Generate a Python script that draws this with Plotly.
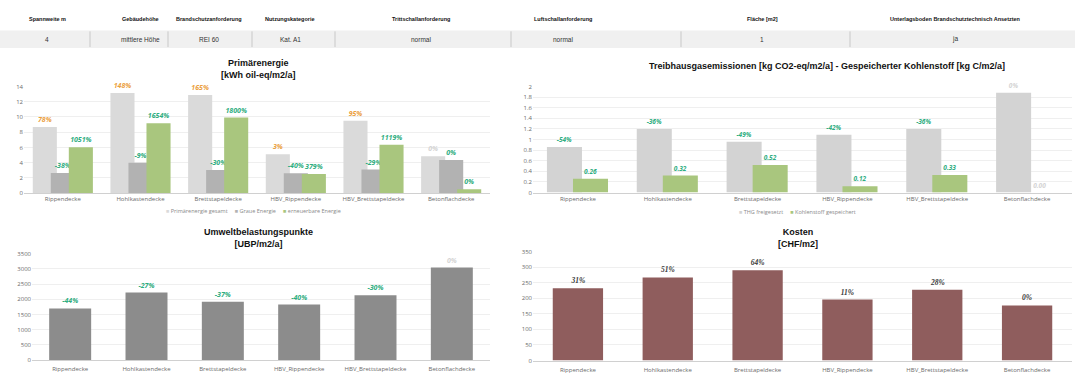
import plotly.graph_objects as go

W, H = 1088, 374

categories = ["Rippendecke", "Hohlkastendecke", "Brettstapeldecke",
              "HBV_Rippendecke", "HBV_Brettstapeldecke", "Betonflachdecke"]

header_labels = ["Spannweite m", "Gebäudehöhe", "Brandschutzanforderung", "Nutzungskategorie",
                 "Trittschallanforderung", "Luftschallanforderung", "Fläche [m2]",
                 "Unterlagsboden Brandschutztechnisch Ansetzten"]
header_values = ["4", "mittlere Höhe", "REI 60", "Kat. A1", "normal", "normal", "1", "ja"]

# Primärenergie [kWh oil-eq/m2/a]
pe_names = ["Primärenergie gesamt", "Graue Energie", "erneuerbare Energie"]
pe_total = [8.7, 13.15, 12.9, 5.1, 9.5, 4.85]
pe_grey = [2.65, 3.98, 3.05, 2.6, 3.1, 4.35]
pe_renew = [6.02, 9.17, 9.93, 2.5, 6.37, 0.52]
pe_total_lbl = ["78%", "148%", "165%", "3%", "95%", "0%"]
pe_grey_lbl = ["-38%", "-9%", "-30%", "-40%", "-29%", "0%"]
pe_renew_lbl = ["1051%", "1654%", "1800%", "379%", "1119%", "0%"]

# Treibhausgasemissionen / gespeicherter Kohlenstoff
ghg_names = ["THG freigesetzt", "Kohlenstoff gespeichert"]
ghg = [0.86, 1.2, 0.96, 1.09, 1.2, 1.88]
carbon = [0.26, 0.32, 0.52, 0.12, 0.33, 0.0]
ghg_lbl = ["-54%", "-36%", "-49%", "-42%", "-36%", "0%"]
carbon_lbl = ["0.26", "0.32", "0.52", "0.12", "0.33", "0.00"]

# Umweltbelastungspunkte [UBP/m2/a]
ubp = [1700, 2220, 1915, 1825, 2130, 3040]
ubp_lbl = ["-44%", "-27%", "-37%", "-40%", "-30%", "0%"]

# Kosten [CHF/m2]
cost = [232, 267, 290, 196, 227, 177]
cost_lbl = ["31%", "51%", "64%", "11%", "28%", "0%"]

# colours
C_LIGHT = "#DADADA"
C_GREY = "#B2B2B2"
C_GREEN = "#A9C67E"
C_GHG = "#D3D3D3"
C_UBP = "#8C8C8C"
C_COST = "#8F5D5D"
C_TEAL = "#2EAD80"
C_ORANGE = "#EBA040"
C_FAINT = "#D4D4D4"
LABEL_FONT = "Open Sans"
TITLE_FONT = "Liberation Sans"
NBSP = "\u00a0"


def px_x(v):
    return v / W


def px_y(v):
    return 1 - v / H


def label_font(colors, size=7, bold=True, family=LABEL_FONT):
    return dict(size=size, color=colors, family=family,
                weight="bold" if bold else "normal", style="italic")


def teal_then_faint(n):
    return [C_TEAL] * (n - 1) + [C_FAINT]


fig = go.Figure()

# ---- Primärenergie (x / y) ----
pe_colors = [C_LIGHT, C_GREY, C_GREEN]
for vals, lbls, col, off, tcol, name in [
    (pe_total, pe_total_lbl, pe_colors[0], -0.387, [C_ORANGE] * 5 + [C_FAINT], pe_names[0]),
    (pe_grey, pe_grey_lbl, pe_colors[1], -0.155, [C_TEAL] * 6, pe_names[1]),
    (pe_renew, pe_renew_lbl, pe_colors[2], 0.077, [C_TEAL] * 6, pe_names[2]),
]:
    fig.add_trace(go.Bar(
        x=categories, y=vals, name=name, marker=dict(color=col, line=dict(width=0)),
        width=0.31, offset=off, text=lbls, textposition="outside", cliponaxis=False,
        constraintext="none", textfont=label_font(tcol), xaxis="x", yaxis="y",
        showlegend=False, hoverinfo="x+y"))

# ---- Treibhausgas (x2 / y2) ----
ghg_colors = [C_GHG, C_GREEN]
for vals, lbls, col, off, tcol, name in [
    (ghg, ghg_lbl, ghg_colors[0], -0.345, teal_then_faint(6), ghg_names[0]),
    (carbon, carbon_lbl, ghg_colors[1], -0.055, teal_then_faint(6), ghg_names[1]),
]:
    fig.add_trace(go.Bar(
        x=categories, y=vals, name=name, marker=dict(color=col, line=dict(width=0)),
        width=0.39, offset=off, text=lbls, textposition="outside", cliponaxis=False,
        constraintext="none", textfont=label_font(tcol, size=6.5), xaxis="x2", yaxis="y2",
        showlegend=False, hoverinfo="x+y"))

# ---- Umweltbelastungspunkte (x3 / y3) ----
fig.add_trace(go.Bar(
    x=categories, y=ubp, name="UBP", marker=dict(color=C_UBP, line=dict(width=0)),
    width=0.55, text=ubp_lbl, textposition="outside", cliponaxis=False,
    constraintext="none", textfont=label_font(teal_then_faint(6)),
    xaxis="x3", yaxis="y3", showlegend=False))

# ---- Kosten (x4 / y4) ----
fig.add_trace(go.Bar(
    x=categories, y=cost, name="Kosten", marker=dict(color=C_COST, line=dict(width=0)),
    width=0.56, text=cost_lbl, textposition="outside", cliponaxis=False,
    constraintext="none",
    textfont=label_font(["#3A3A3A"] * 6, size=7.5, bold=True, family="Liberation Serif"),
    xaxis="x4", yaxis="y4", showlegend=False))

tick_font = dict(size=6, color="#6B6B6B", family=LABEL_FONT)


def xaxis(x0, x1, anchor, standoff=0):
    ax = dict(domain=[px_x(x0), px_x(x1)], anchor=anchor, type="category",
              showline=True, linecolor="#D0D0D0", linewidth=1, ticks="",
              showgrid=False, tickangle=0, tickfont=tick_font, fixedrange=True)
    if standoff:
        ax["ticklabelstandoff"] = standoff
    return ax


def yaxis(y_bottom, y_top, rng, dtick, anchor):
    return dict(domain=[px_y(y_bottom), px_y(y_top)], anchor=anchor, range=rng,
                dtick=dtick, showline=False, zeroline=False, showgrid=True,
                gridcolor="#EFEFEF", gridwidth=1, ticks="", tickfont=tick_font,
                fixedrange=True)


fig.update_layout(
    width=W, height=H, margin=dict(l=0, r=0, t=0, b=0),
    paper_bgcolor="white", plot_bgcolor="white", barmode="overlay", showlegend=False,
    xaxis=xaxis(24, 490, "y"), yaxis=yaxis(193.3, 84.3, [0, 14], 2, "x"),
    xaxis2=xaxis(533, 1072, "y2"), yaxis2=yaxis(192.7, 84.3, [0, 2], 0.2, "x2"),
    xaxis3=xaxis(32, 490, "y3", 3), yaxis3=yaxis(364, 255, [0, 3500], 500, "x3"),
    xaxis4=xaxis(533, 1072, "y4", 3), yaxis4=yaxis(364.3, 253, [0, 350], 50, "x4"),
    font=dict(family=LABEL_FONT),
)

# ---- header table ----
header_x = [47, 140, 209, 290, 421, 563, 762, 955]
separators = [90, 168, 252, 335, 511, 681, 850]
shapes = [dict(type="rect", xref="paper", yref="paper", x0=0, x1=px_x(1075),
               y0=px_y(45), y1=px_y(27), fillcolor="#F0F0F0", line=dict(width=0), layer="below")]
for e in separators:
    shapes.append(dict(type="line", xref="paper", yref="paper", x0=px_x(e), x1=px_x(e),
                       y0=px_y(44), y1=px_y(28), line=dict(color="#C8C8C8", width=1)))
annotations = []
for cx, lab, val in zip(header_x, header_labels, header_values):
    annotations.append(dict(x=px_x(cx), y=px_y(15), xref="paper", yref="paper",
                            text=f"<b>{lab}</b>", showarrow=False, xanchor="center",
                            yanchor="middle", font=dict(size=5.5, color="#111111",
                                                        family=TITLE_FONT)))
    annotations.append(dict(x=px_x(cx), y=px_y(36), xref="paper", yref="paper",
                            text=val, showarrow=False, xanchor="center", yanchor="middle",
                            font=dict(size=6.5, color="#333333", family=TITLE_FONT)))

# ---- chart titles ----
titles = [
    ("Primärenergie<br>[kWh oil-eq/m2/a]", 258, 66.5),
    ("Treibhausgasemissionen [kg CO2-eq/m2/a] - Gespeicherter Kohlenstoff [kg C/m2/a]", 827, 63),
    ("Umweltbelastungspunkte<br>[UBP/m2/a]", 258, 239),
    ("Kosten<br>[CHF/m2]", 798, 239),
]
for txt, cx, cy in titles:
    annotations.append(dict(x=px_x(cx), y=px_y(cy), xref="paper", yref="paper",
                            text=f"<b>{txt}</b>", showarrow=False, xanchor="center",
                            yanchor="middle", align="center",
                            font=dict(size=9, color="#111111", family=TITLE_FONT)))


# ---- compact legends (small square key + series name) ----
def legend_text(names, colors):
    items = [f"<span style='color:{c}'>■</span>{NBSP}{n}" for n, c in zip(names, colors)]
    return (NBSP * 5).join(items)


for names, colors, cx, cy in [(pe_names, pe_colors, 253, 212),
                              (ghg_names, ghg_colors, 797, 213)]:
    annotations.append(dict(x=px_x(cx), y=px_y(cy), xref="paper", yref="paper",
                            text=legend_text(names, colors), showarrow=False,
                            xanchor="center", yanchor="middle",
                            font=dict(size=5.5, color="#8A8A8A", family=LABEL_FONT)))

fig.update_layout(shapes=shapes, annotations=annotations)

fig.write_html("out.html")
